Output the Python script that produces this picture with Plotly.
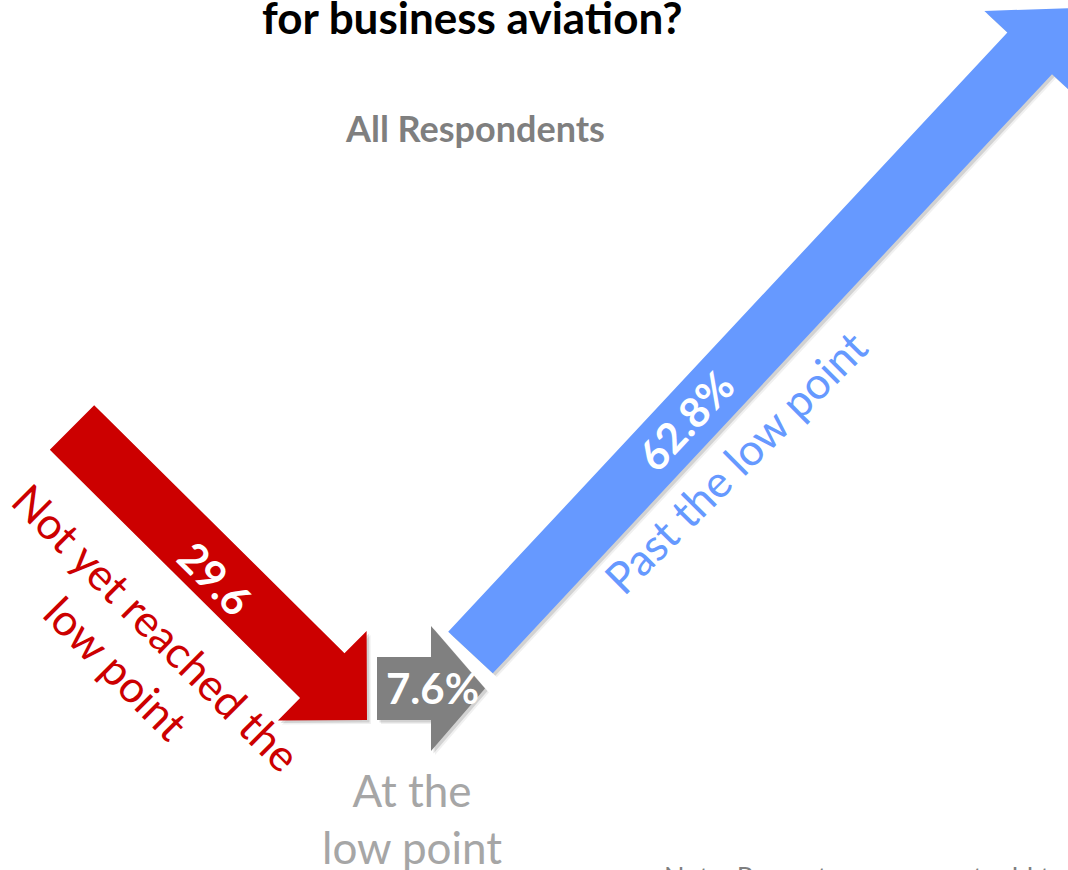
import numpy as np
import plotly.graph_objects as go

# ---------------- data ----------------
categories = ["Not yet reached the<br>low point", "At the<br>low point", "Past the low point"]
values = [29.6, 7.6, 62.8]
value_labels = ["29.6", "7.6%", "62.8%"]

title_text = "for business aviation?"
subtitle_text = "All Respondents"
note_text = "Note: Percentages may not add to 100% due to rounding"

# ---------------- styling / layout geometry ----------------
W, H = 1068, 870
colors = ["#CC0000", "#808080", "#6699FF"]
cat_colors = ["#CC0000", "#A6A6A6", "#6699FF"]
FONT = "Lato"

# arrow geometry in page pixels: tail centre, tip, shaft width, head width, head length
arrows = [
    dict(tail=(72, 427.5), tip=(367, 720), sw=63, hw=126, hl=63),
    dict(tail=(377, 688.5), tip=(485, 688.5), sw=63, hw=125, hl=54),
    dict(tail=(470.5, 652.5), tip=(1072, 8), sw=61, hw=124, hl=62),
]


def arrow_polygon(tail, tip, sw, hw, hl):
    t = np.array(tail, float)
    p = np.array(tip, float)
    d = p - t
    d /= np.linalg.norm(d)
    n = np.array([-d[1], d[0]])
    base = p - hl * d
    pts = [t + n * sw / 2, base + n * sw / 2, base + n * hw / 2, p,
           base - n * hw / 2, base - n * sw / 2, t - n * sw / 2, t + n * sw / 2]
    pts = np.array(pts)
    return pts[:, 0], pts[:, 1]


fig = go.Figure()

# soft shadows
for a in arrows:
    xs, ys = arrow_polygon(**a)
    for off, alpha in [(4, 0.06), (2.5, 0.12)]:
        fig.add_trace(go.Scatter(x=xs + off, y=ys + off, mode="lines", fill="toself",
                                 fillcolor=f"rgba(0,0,0,{alpha})", line=dict(width=0),
                                 hoverinfo="skip", showlegend=False))

# arrows
for a, c, cat, v in zip(arrows, colors, categories, values):
    xs, ys = arrow_polygon(**a)
    fig.add_trace(go.Scatter(x=xs, y=ys, mode="lines", fill="toself", fillcolor=c,
                             line=dict(width=0, color=c), name=cat.replace("<br>", " "),
                             hovertext=f"{v}%", hoverinfo="text", showlegend=False))

ann = []
# value labels
value_pos = [(215, 578, 45), (432, 688, 0), (685, 421, -47)]
for (x, y, ang), lab in zip(value_pos, value_labels):
    ann.append(dict(x=x, y=y, text=f"<b>{lab}</b>", textangle=ang, showarrow=False,
                    font=dict(family=FONT, size=42, color="white"),
                    xanchor="center", yanchor="middle"))

# category labels
cat_pos = [(137, 647, 45), (412, 818, 0), (735, 462, -45)]
for (x, y, ang), lab, c in zip(cat_pos, categories, cat_colors):
    ann.append(dict(x=x, y=y, text=lab, textangle=ang, showarrow=False, align="center",
                    font=dict(family=FONT, size=44, color=c),
                    xanchor="center", yanchor="middle"))

# title, subtitle, note
ann.append(dict(x=472, y=17, text=f"<b>{title_text}</b>", showarrow=False,
                font=dict(family=FONT, size=44, color="black"),
                xanchor="center", yanchor="middle"))
ann.append(dict(x=475, y=128, text=f"<b>{subtitle_text}</b>", showarrow=False,
                font=dict(family=FONT, size=36, color="#7F7F7F"),
                xanchor="center", yanchor="middle"))
ann.append(dict(x=662, y=858, text=note_text, showarrow=False,
                font=dict(family=FONT, size=27, color="#7F7F7F"),
                xanchor="left", yanchor="top"))

for a in ann:
    a["xref"] = "x"
    a["yref"] = "y"

fig.update_layout(
    width=W, height=H,
    margin=dict(l=0, r=0, t=0, b=0),
    paper_bgcolor="white", plot_bgcolor="white",
    xaxis=dict(range=[0, W], visible=False, fixedrange=True),
    yaxis=dict(range=[H, 0], visible=False, fixedrange=True),
    annotations=ann,
    showlegend=False,
)

fig.write_html("out.html", config={"displayModeBar": False},
               post_script="document.body.style.margin='0';document.body.style.overflow='hidden';")
